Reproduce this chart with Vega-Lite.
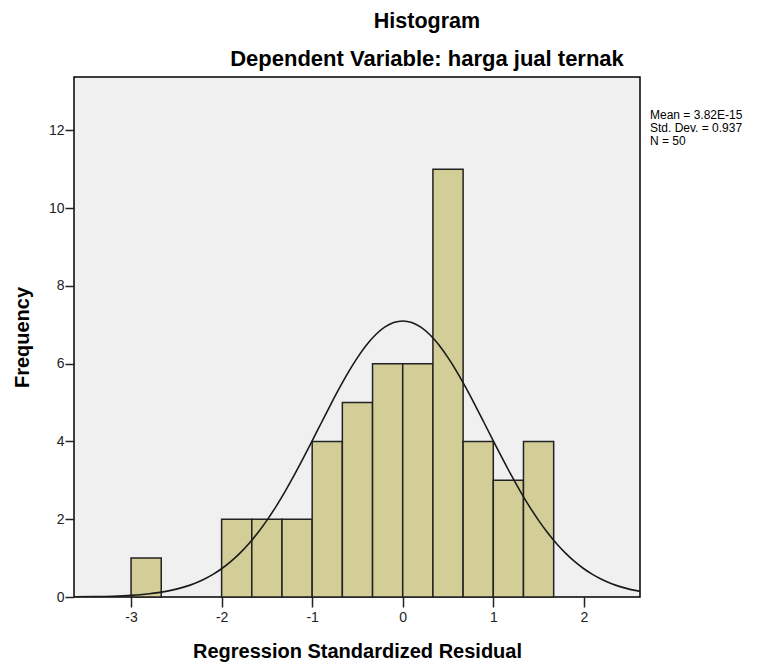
{
  "$schema": "https://vega.github.io/schema/vega-lite/v6.json",
  "autosize": "none",
  "width": 566,
  "height": 520,
  "padding": {"left": 74, "top": 77, "right": 127, "bottom": 67},
  "background": "white",
  "config": {
    "view": {"fill": "#f0f0f0", "stroke": "#000000", "strokeWidth": 1.5},
    "font": "Liberation Sans"
  },
  "title": {
    "text": "Histogram",
    "subtitle": "Dependent Variable: harga jual ternak",
    "anchor": "middle",
    "frame": "group",
    "dx": 70,
    "offset": 7,
    "fontSize": 21.5,
    "fontWeight": "bold",
    "color": "#000000",
    "subtitleFontSize": 22,
    "subtitleFontWeight": "bold",
    "subtitleColor": "#000000",
    "subtitlePadding": 17,
    "font": "Liberation Sans",
    "subtitleFont": "Liberation Sans"
  },
  "datasets": {
    "bins": [
      {"start": -3.0, "end": -2.6667, "count": 1},
      {"start": -2.0, "end": -1.6667, "count": 2},
      {"start": -1.6667, "end": -1.3333, "count": 2},
      {"start": -1.3333, "end": -1.0, "count": 2},
      {"start": -1.0, "end": -0.6667, "count": 4},
      {"start": -0.6667, "end": -0.3333, "count": 5},
      {"start": -0.3333, "end": 0.0, "count": 6},
      {"start": 0.0, "end": 0.3333, "count": 6},
      {"start": 0.3333, "end": 0.6667, "count": 11},
      {"start": 0.6667, "end": 1.0, "count": 4},
      {"start": 1.0, "end": 1.3333, "count": 3},
      {"start": 1.3333, "end": 1.6667, "count": 4}
    ],
    "curve": [
      {"x": -3.63, "y": 0.004},
      {"x": -3.4, "y": 0.0098},
      {"x": -3.2, "y": 0.021},
      {"x": -3.0, "y": 0.042},
      {"x": -2.9, "y": 0.059},
      {"x": -2.8, "y": 0.082},
      {"x": -2.7, "y": 0.112},
      {"x": -2.6, "y": 0.151},
      {"x": -2.5, "y": 0.202},
      {"x": -2.4, "y": 0.267},
      {"x": -2.3, "y": 0.349},
      {"x": -2.2, "y": 0.451},
      {"x": -2.1, "y": 0.576},
      {"x": -2.0, "y": 0.727},
      {"x": -1.9, "y": 0.908},
      {"x": -1.8, "y": 1.121},
      {"x": -1.7, "y": 1.369},
      {"x": -1.6, "y": 1.652},
      {"x": -1.5, "y": 1.971},
      {"x": -1.4, "y": 2.324},
      {"x": -1.3, "y": 2.711},
      {"x": -1.2, "y": 3.126},
      {"x": -1.1, "y": 3.563},
      {"x": -1.0, "y": 4.016},
      {"x": -0.9, "y": 4.474},
      {"x": -0.8, "y": 4.929},
      {"x": -0.7, "y": 5.369},
      {"x": -0.6, "y": 5.782},
      {"x": -0.5, "y": 6.155},
      {"x": -0.4, "y": 6.479},
      {"x": -0.3, "y": 6.742},
      {"x": -0.2, "y": 6.937},
      {"x": -0.1, "y": 7.057},
      {"x": 0.0, "y": 7.097},
      {"x": 0.1, "y": 7.057},
      {"x": 0.2, "y": 6.937},
      {"x": 0.3, "y": 6.742},
      {"x": 0.4, "y": 6.479},
      {"x": 0.5, "y": 6.155},
      {"x": 0.6, "y": 5.782},
      {"x": 0.7, "y": 5.369},
      {"x": 0.8, "y": 4.929},
      {"x": 0.9, "y": 4.474},
      {"x": 1.0, "y": 4.016},
      {"x": 1.1, "y": 3.563},
      {"x": 1.2, "y": 3.126},
      {"x": 1.3, "y": 2.711},
      {"x": 1.4, "y": 2.324},
      {"x": 1.5, "y": 1.971},
      {"x": 1.6, "y": 1.652},
      {"x": 1.7, "y": 1.369},
      {"x": 1.8, "y": 1.121},
      {"x": 1.9, "y": 0.908},
      {"x": 2.0, "y": 0.727},
      {"x": 2.1, "y": 0.576},
      {"x": 2.2, "y": 0.451},
      {"x": 2.3, "y": 0.349},
      {"x": 2.4, "y": 0.267},
      {"x": 2.5, "y": 0.202},
      {"x": 2.62, "y": 0.145}
    ]
  },
  "layer": [
    {
      "data": {"name": "bins"},
      "mark": {"type": "rect", "fill": "#d3ce97", "stroke": "#222222", "strokeWidth": 1.5},
      "encoding": {
        "x": {
          "field": "start",
          "type": "quantitative",
          "scale": {"domain": [-3.63, 2.62], "nice": false, "zero": false},
          "axis": {
            "title": "Regression Standardized Residual",
            "titleFontSize": 20,
            "titleFontWeight": "bold",
            "titleColor": "#000000",
            "titlePadding": 17,
            "values": [-3, -2, -1, 0, 1, 2],
            "labelExpr": "'' + datum.value",
            "labelFontSize": 14,
            "labelColor": "#222222",
            "labelPadding": 3,
            "tickColor": "#222222",
            "tickSize": 10,
            "tickWidth": 1.5,
            "domain": false,
            "grid": false
          }
        },
        "x2": {"field": "end"},
        "y": {
          "field": "count",
          "type": "quantitative",
          "scale": {"domain": [0, 13.37], "nice": false},
          "axis": {
            "title": "Frequency",
            "titleFontSize": 20,
            "titleFontWeight": "bold",
            "titleColor": "#000000",
            "titlePadding": 16,
            "values": [0, 2, 4, 6, 8, 10, 12],
            "labelFontSize": 14,
            "labelColor": "#222222",
            "labelPadding": 1,
            "tickColor": "#222222",
            "tickSize": 9,
            "tickWidth": 1.5,
            "domain": false,
            "grid": false
          }
        },
        "y2": {"datum": 0}
      }
    },
    {
      "data": {"name": "curve"},
      "mark": {"type": "line", "color": "#1a1a1a", "strokeWidth": 1.6, "interpolate": "monotone", "clip": true},
      "encoding": {
        "x": {"field": "x", "type": "quantitative"},
        "y": {"field": "y", "type": "quantitative"}
      }
    },
    {
      "data": {"values": [{"label": "stats"}]},
      "mark": {
        "type": "text",
        "text": ["Mean = 3.82E-15", "Std. Dev. = 0.937", "N = 50"],
        "align": "left",
        "baseline": "top",
        "fontSize": 12,
        "lineHeight": 13,
        "font": "Liberation Sans",
        "color": "#000000"
      },
      "encoding": {
        "x": {"datum": 2.73},
        "y": {"datum": 12.53}
      }
    }
  ]
}
